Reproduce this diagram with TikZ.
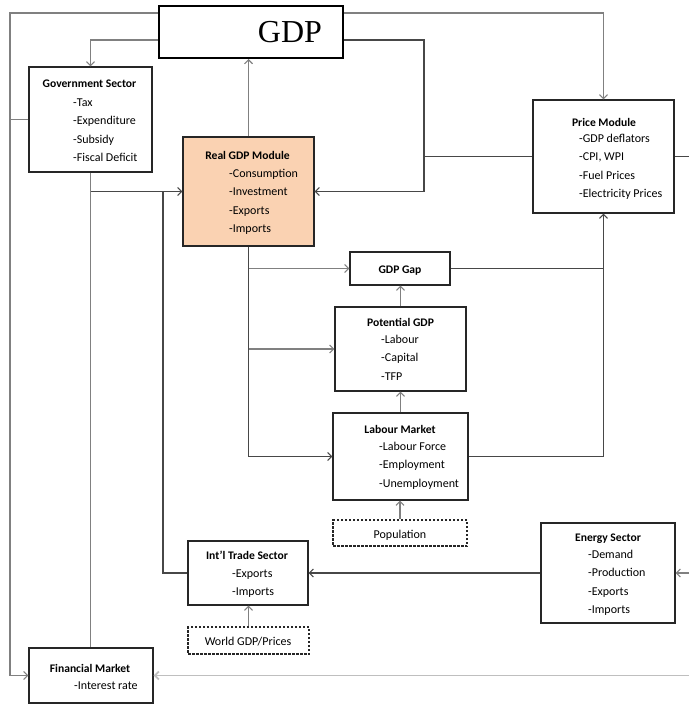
\documentclass[tikz,border=0pt]{standalone}
\usepackage{fontspec}
\setmainfont{Carlito}
\newfontfamily\gdpserif{Liberation Serif}
\usetikzlibrary{arrows.meta,calc}
\definecolor{peach}{RGB}{250,210,178}
\begin{document}
\begin{tikzpicture}[x=1pt,y=-1pt,
  box/.style={draw=black!85, line width=1.3pt, inner sep=0pt},
  dbox/.style={box, dash pattern=on 2.5pt off 1.5pt},
  head/.style={anchor=base, inner sep=0pt, font=\fontsize{11.6}{13}\selectfont\bfseries},
  plain/.style={anchor=base, inner sep=0pt, font=\fontsize{12}{14}\selectfont},
  items/.style={anchor=north west, inner sep=0pt, align=left, font=\fontsize{12}{18.2}\selectfont},
  conn/.style={draw=black!50, line width=1.1pt},
  dconn/.style={draw=black!72, line width=1.1pt},
  lconn/.style={draw=black!25, line width=1.8pt},
  >={Straight Barb[length=4pt,width=8pt]}]
\useasboundingbox (0,0) rectangle (689,704);

% boxes
\node[box, minimum width=184pt, minimum height=52pt, line width=2pt, draw=black] (gdp) at (251,32) {};
\node[anchor=base, inner sep=0pt, font=\gdpserif\fontsize{32}{36}\selectfont] (gdpt) at (290,42.5) {GDP};

\node[box, minimum width=123pt, minimum height=105pt] (gov) at (90.5,119.5) {};
\node[head] (govh) at (89.5,87) {Government Sector};
\node[items] (govi) at (73,{106.5-12.74}) {\strut-Tax\\\strut-Expenditure\\\strut-Subsidy\\\strut-Fiscal Deficit};

\node[box, fill=peach, minimum width=131pt, minimum height=109pt] (real) at (248.5,191.5) {};
\node[head] (realh) at (247.5,159) {Real GDP Module};
\node[items] (reali) at (229,{177.5-12.74}) {\strut-Consumption\\\strut-Investment\\\strut-Exports\\\strut-Imports};

\node[box, minimum width=141pt, minimum height=113pt] (price) at (603.5,156.5) {};
\node[head] (priceh) at (604,126) {Price Module};
\node[items] (pricei) at (579,{142.5-12.74}) {\strut-GDP deflators\\\strut-CPI, WPI\\\strut-Fuel Prices\\\strut-Electricity Prices};

\node[box, minimum width=100pt, minimum height=33pt] (gap) at (400,268.5) {};
\node[head] (gaph) at (400,273) {GDP Gap};

\node[box, minimum width=131pt, minimum height=84pt] (pot) at (400.5,349) {};
\node[head] (poth) at (400.5,326) {Potential GDP};
\node[items] (poti) at (381,{343.5-12.74}) {\strut-Labour\\\strut-Capital\\\strut-TFP};

\node[box, minimum width=135pt, minimum height=87pt] (lab) at (400.5,456.5) {};
\node[head] (labh) at (400,433) {Labour Market};
\node[items] (labi) at (379,{450.5-12.74}) {\strut-Labour Force\\\strut-Employment\\\strut-Unemployment};

\node[dbox, minimum width=134pt, minimum height=26pt] (pop) at (400,533) {};
\node[plain] (popt) at (400,538) {Population};

\node[box, minimum width=120pt, minimum height=64pt] (trade) at (248,573) {};
\node[head] (tradeh) at (247,559) {Int'l Trade Sector};
\node[items] (tradei) at (232,{577.5-12.74}) {\strut-Exports\\\strut-Imports};

\node[dbox, minimum width=121pt, minimum height=27pt] (world) at (248.5,640.5) {};
\node[plain] (worldt) at (248,645) {World GDP/Prices};

\node[box, minimum width=134pt, minimum height=100pt] (energy) at (608,573) {};
\node[head] (energyh) at (608,541) {Energy Sector};
\node[items] (energyi) at (588,{558.5-12.74}) {\strut-Demand\\\strut-Production\\\strut-Exports\\\strut-Imports};

\node[box, minimum width=124pt, minimum height=55pt] (fin) at (91,675.5) {};
\node[head] (finh) at (90,672) {Financial Market};
\node[items] (fini) at (74,{689.5-12.74}) {\strut-Interest rate};

% junction coordinates
\coordinate (tl) at (10,13);
\coordinate (g2) at (91,40);
\coordinate (jr) at (424,40);
\coordinate (tj) at (163,0);
\coordinate (rx) at (689,0);

% connectors
\draw[conn,->] (gdp.west |- tl) -- (tl) |- (fin.west);
\draw[conn,->] (gdp.east |- tl) -| (price.north);
\draw[conn,->] (gdp.west |- g2) -| (gov.north);
\draw[conn,->] (real.north) -- (real.north |- gdp.south);
\draw[dconn,->] (gdp.east |- jr) -- (jr) |- (real.east);
\draw[dconn] (price.west) -- (price.west -| jr);
\draw[conn] (gov.west) -- (gov.west -| tl);
\draw[dconn,->] (gov.south) |- (real.west);
\draw[conn] (gov.south) -- (gov.south |- fin.north);
\draw[dconn] (trade.west) -| (tj |- real.west);
\draw[dconn,->] (real.south) |- (lab.west);
\draw[conn,->] (real.south |- gap.west) -- (gap.west);
\draw[conn,->] (real.south |- pot.west) -- (pot.west);
\draw[conn,->] (pot.north) -- (pot.north |- gap.south);
\draw[conn,->] (lab.north) -- (lab.north |- pot.south);
\draw[conn,->] (pop.north) -- (pop.north |- lab.south);
\draw[conn,->] (world.north) -- (world.north |- trade.south);
\draw[dconn,->] (gap.east) -| (price.south);
\draw[dconn] (lab.east) -| (price.south |- gap.east);
\draw[dconn] (price.east) -- (price.east -| rx);
\draw[conn,->] (energy.east -| rx) -- (energy.east);
\draw[dconn,->] (energy.west) -- (trade.east);
\draw[lconn,->] (fin.east -| rx) -- (fin.east);
\end{tikzpicture}
\end{document}
